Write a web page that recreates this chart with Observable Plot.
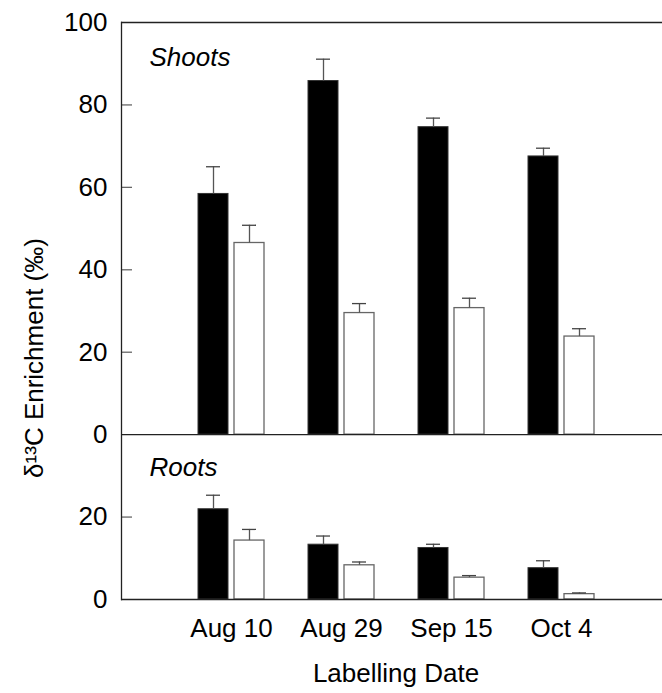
<!DOCTYPE html>
<html>
<head>
<meta charset="utf-8">
<script src="https://cdn.jsdelivr.net/npm/d3@7"></script>
<script src="https://cdn.jsdelivr.net/npm/@observablehq/plot@0.6"></script>
<style>
  body { margin: 0; background: white; }
</style>
</head>
<body>
<div id="chart"></div>
<script>
// Labelling dates (x categories)
const dates = ["Aug 10", "Aug 29", "Sep 15", "Oct 4"];

// Shoots: mean enrichment and standard error, filled and open bars
const shootsFilled = [58.4, 85.8, 74.6, 67.5];
const shootsFilledErr = [6.6, 5.3, 2.2, 2.0];
const shootsOpen = [46.5, 29.5, 30.7, 23.8];
const shootsOpenErr = [4.3, 2.3, 2.4, 1.9];

// Roots: mean enrichment and standard error, filled and open bars
const rootsFilled = [21.9, 13.3, 12.5, 7.6];
const rootsFilledErr = [3.4, 2.1, 0.9, 1.8];
const rootsOpen = [14.3, 8.3, 5.3, 1.3];
const rootsOpenErr = [2.7, 0.8, 0.5, 0.3];

// Axis ticks of each panel (in that panel's own units)
const shootsTicks = [0, 20, 40, 60, 80, 100];
const rootsTicks = [0, 20];

// The two panels share one vertical scale: roots occupy 0–40,
// the shoots panel is stacked on top with its zero at 40.
const rootsSpan = 40;
const shootsSpan = 100;

const rows = (values, errs, base) =>
  dates.map((date, i) => ({date, value: values[i], se: errs[i], base}));

const filledRows = [
  ...rows(shootsFilled, shootsFilledErr, rootsSpan),
  ...rows(rootsFilled, rootsFilledErr, 0)
];
const openRows = [
  ...rows(shootsOpen, shootsOpenErr, rootsSpan),
  ...rows(rootsOpen, rootsOpenErr, 0)
];

// Tick positions on the stacked scale, with their panel-local labels
const yTicks = [
  ...rootsTicks.map(v => ({pos: v, label: v})),
  ...shootsTicks.map(v => ({pos: v + rootsSpan, label: v}))
];
const tickLabel = new Map(yTicks.map(t => [t.pos, t.label]));
const innerTicks = yTicks.filter(t => t.label !== 0 && t.pos !== rootsSpan + shootsSpan);

const font = "'Liberation Sans', Arial, Helvetica, sans-serif";
const fontSize = 26;
const axisColor = "#222";
const edgeColor = "#666";
const innerWidth = 662 - 121;

const top0 = d => d.base + d.value;
const topErr = d => d.base + d.value + d.se;

const chart = Plot.plot({
  width: 662,
  height: 693,
  marginTop: 22,
  marginBottom: 94,
  marginLeft: 121,
  marginRight: 0,
  style: {fontFamily: font, fontSize: `${fontSize}px`, background: "white", color: "black"},
  // one 110px band per date
  x: {type: "band", domain: dates, range: [176, 616], padding: 0},
  y: {domain: [0, rootsSpan + shootsSpan]},
  marks: [
    // bars
    Plot.barY(filledRows, {x: "date", y1: "base", y2: top0, fill: "black", stroke: "#333", strokeWidth: 1, insetLeft: 22, insetRight: 58}),
    Plot.barY(openRows, {x: "date", y1: "base", y2: top0, fill: "white", stroke: edgeColor, strokeWidth: 1.3, insetLeft: 58, insetRight: 22}),
    // error bars with caps
    Plot.ruleX(filledRows, {x: "date", y1: top0, y2: topErr, dx: -18, stroke: "#555", strokeWidth: 1.3}),
    Plot.ruleX(openRows, {x: "date", y1: top0, y2: topErr, dx: 18, stroke: "#555", strokeWidth: 1.3}),
    Plot.tickY(filledRows, {x: "date", y: topErr, insetLeft: 30, insetRight: 66, stroke: "#444", strokeWidth: 1.3}),
    Plot.tickY(openRows, {x: "date", y: topErr, insetLeft: 66, insetRight: 30, stroke: "#444", strokeWidth: 1.3}),
    // inward tick marks
    Plot.tickY(innerTicks, {y: "pos", insetRight: innerWidth - 11, stroke: edgeColor, strokeWidth: 1.3}),
    // panel lines: roots baseline, shoots baseline, top edge, left axis
    Plot.ruleY([0, rootsSpan, rootsSpan + shootsSpan], {stroke: axisColor, strokeWidth: 1.3}),
    Plot.frame({anchor: "left", stroke: axisColor, strokeWidth: 1.3}),
    // axes
    Plot.axisY({ticks: yTicks.map(t => t.pos), tickFormat: v => tickLabel.get(v), tickSize: 0, tickPadding: 14, label: null, fontSize}),
    Plot.axisX({tickSize: 0, tickPadding: 19, label: null, fontSize}),
    // panel titles
    Plot.text(["Shoots"], {frameAnchor: "top-left", textAnchor: "start", lineAnchor: "top", dx: 28, dy: 25, fontStyle: "italic", fontSize}),
    Plot.text(["Roots"], {y: () => rootsSpan, frameAnchor: "left", textAnchor: "start", lineAnchor: "top", dx: 28, dy: 23, fontStyle: "italic", fontSize}),
    // axis titles
    Plot.text(["δ¹³C Enrichment (‰)"], {frameAnchor: "left", rotate: -90, textAnchor: "middle", dx: -87, dy: 47, fontSize}),
    Plot.text(["Labelling Date"], {frameAnchor: "bottom", textAnchor: "middle", lineAnchor: "top", dx: 4, dy: 64, fontSize})
  ]
});

document.getElementById("chart").appendChild(chart);
</script>
</body>
</html>
